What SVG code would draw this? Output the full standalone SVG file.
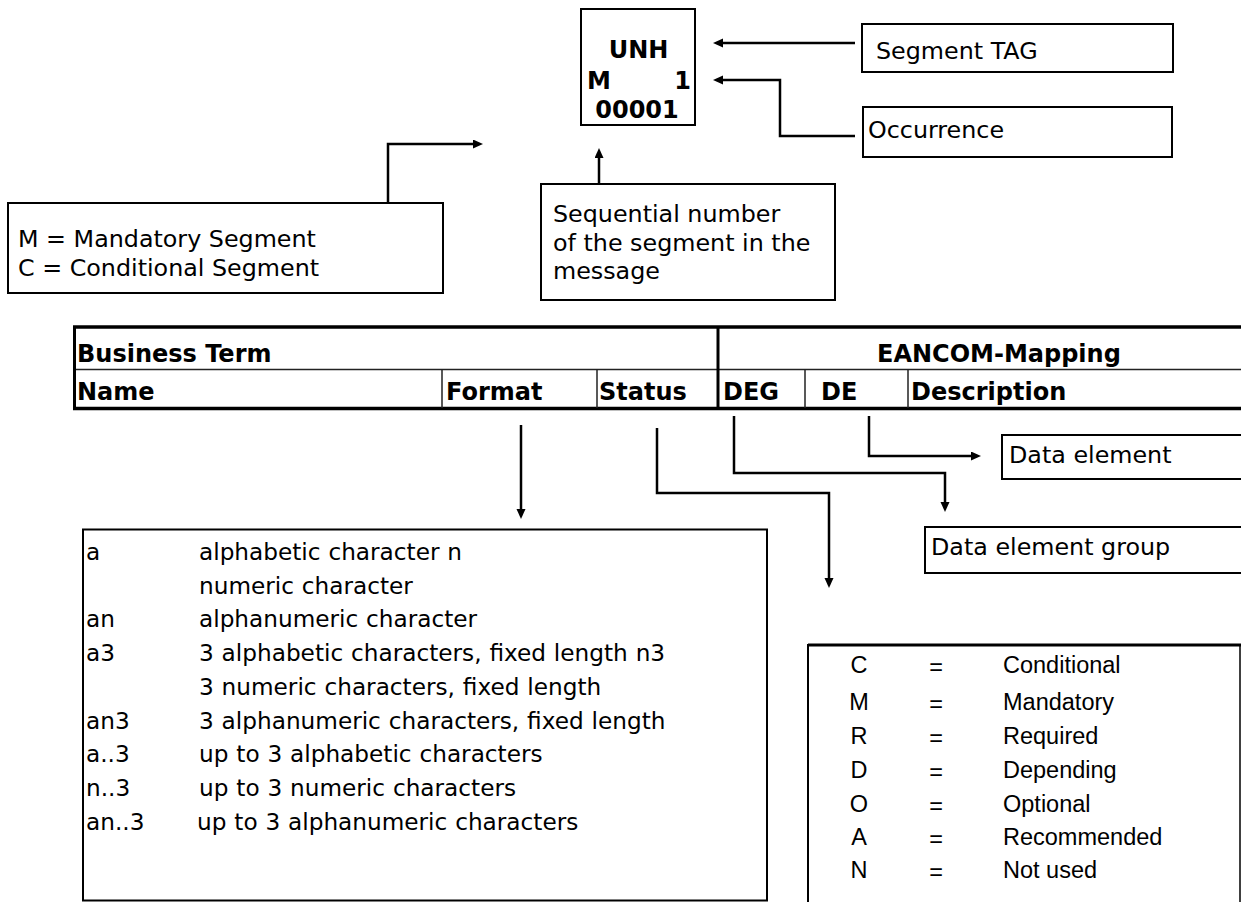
<svg xmlns="http://www.w3.org/2000/svg" width="1241" height="902" viewBox="0 0 1241 902">
<style>
text{font-family:"DejaVu Sans","Verdana",sans-serif;font-size:23.8px;fill:#000}
.b{font-weight:bold;font-size:24px}
.s{font-size:23.2px;word-spacing:0.5px}
.ar{font-family:"Liberation Sans",Arial,sans-serif;font-size:23.5px}
.box{fill:#fff;stroke:#000;stroke-width:2}
.con{fill:none;stroke:#000;stroke-width:2.5;marker-end:url(#ah)}
.tk{stroke:#000;stroke-width:3.5}
.tn{stroke:#222;stroke-width:1.5}
</style>
<defs>
<marker id="ah" markerUnits="userSpaceOnUse" markerWidth="12" markerHeight="10" refX="2" refY="4.5" orient="auto">
<path d="M0,0 L10,4.5 L0,9 z" fill="#000"/>
</marker>
</defs>
<rect width="1241" height="902" fill="#fff"/>

<g id="connectors">
<path class="con" d="M388,203 V144 H475"/>
<path class="con" d="M599,184 V156"/>
<path class="con" d="M855,43 H721"/>
<path class="con" d="M855,136 H780 V80 H721"/>
<path class="con" d="M521,425 V511"/>
<path class="con" d="M657,428 V493 H829 V580"/>
<path class="con" d="M734,416 V473 H945 V504"/>
<path class="con" d="M869,416 V456 H973"/>
</g>

<g id="unh">
<rect class="box" x="581" y="9" width="114" height="116"/>
<text class="b" x="638.5" y="58" text-anchor="middle">UNH</text>
<text class="b" x="587" y="89">M</text>
<text class="b" x="691" y="89" text-anchor="end">1</text>
<text class="b" x="637" y="118" text-anchor="middle">00001</text>
</g>

<g id="segment-tag">
<rect class="box" x="862" y="24" width="311" height="48"/>
<text x="876" y="59">Segment TAG</text>
</g>

<g id="occurrence">
<rect class="box" x="863" y="107" width="309" height="50"/>
<text x="868" y="138">Occurrence</text>
</g>

<g id="mandatory-conditional">
<rect class="box" x="8" y="203" width="435" height="90"/>
<text x="18" y="247">M = Mandatory Segment</text>
<text x="18" y="276">C = Conditional Segment</text>
</g>

<g id="sequential">
<rect class="box" x="541" y="184" width="294" height="116"/>
<text x="553" y="222">Sequential number</text>
<text x="553" y="250.5">of the segment in the</text>
<text x="553" y="279">message</text>
</g>

<g id="table">
<line class="tk" x1="73" y1="327" x2="1241" y2="327"/>
<line class="tn" x1="74" y1="369.5" x2="1241" y2="369.5"/>
<line class="tk" x1="73" y1="408.5" x2="1241" y2="408.5"/>
<line x1="74.5" y1="326" x2="74.5" y2="410" stroke="#000" stroke-width="3"/>
<line x1="718" y1="326" x2="718" y2="410" stroke="#000" stroke-width="3"/>
<line class="tn" x1="442" y1="369.5" x2="442" y2="408"/>
<line class="tn" x1="597" y1="369.5" x2="597" y2="408"/>
<line class="tn" x1="805" y1="369.5" x2="805" y2="408"/>
<line class="tn" x1="908" y1="369.5" x2="908" y2="408"/>
<text class="b" x="77" y="362">Business Term</text>
<text class="b" x="877" y="362">EANCOM-Mapping</text>
<text class="b" x="77" y="400">Name</text>
<text class="b" x="446" y="400">Format</text>
<text class="b" x="599" y="400">Status</text>
<text class="b" x="723" y="400">DEG</text>
<text class="b" x="821" y="400">DE</text>
<text class="b" x="911" y="400">Description</text>
</g>

<g id="data-element">
<path d="M1241,435 H1002 V479 H1241" fill="#fff" stroke="#000" stroke-width="2"/>
<text x="1009" y="463">Data element</text>
</g>

<g id="data-element-group">
<path d="M1241,527 H925 V573 H1241" fill="#fff" stroke="#000" stroke-width="2"/>
<text x="931" y="555">Data element group</text>
</g>

<g id="format-legend">
<rect class="box" x="83" y="529.5" width="684" height="371"/>
<text class="s" x="86" y="560">a</text><text class="s" x="199" y="560">alphabetic character n</text>
<text class="s" x="199" y="593.7">numeric character</text>
<text class="s" x="86" y="627.4">an</text><text class="s" x="199" y="627.4">alphanumeric character</text>
<text class="s" x="86" y="661.1">a3</text><text class="s" x="199" y="661.1">3 alphabetic characters, fixed length n3</text>
<text class="s" x="199" y="694.8">3 numeric characters, fixed length</text>
<text class="s" x="86" y="728.5">an3</text><text class="s" x="199" y="728.5">3 alphanumeric characters, fixed length</text>
<text class="s" x="86" y="762.2">a..3</text><text class="s" x="199" y="762.2">up to 3 alphabetic characters</text>
<text class="s" x="86" y="795.9">n..3</text><text class="s" x="199" y="795.9">up to 3 numeric characters</text>
<text class="s" x="86" y="829.6">an..3</text><text class="s" x="197" y="829.6">up to 3 alphanumeric characters</text>
</g>

<g id="status-legend">
<line x1="808" y1="645" x2="1241" y2="645" stroke="#000" stroke-width="3"/>
<line x1="808" y1="644" x2="808" y2="902" stroke="#000" stroke-width="2"/>
<line x1="1240" y1="644" x2="1240" y2="902" stroke="#000" stroke-width="1.5"/>
<text class="ar" x="859" y="673" text-anchor="middle">C</text><text class="ar" x="936" y="675" text-anchor="middle">=</text><text class="ar" x="1003" y="673">Conditional</text>
<text class="ar" x="859" y="710" text-anchor="middle">M</text><text class="ar" x="936" y="712" text-anchor="middle">=</text><text class="ar" x="1003" y="710">Mandatory</text>
<text class="ar" x="859" y="744" text-anchor="middle">R</text><text class="ar" x="936" y="746" text-anchor="middle">=</text><text class="ar" x="1003" y="744">Required</text>
<text class="ar" x="859" y="778" text-anchor="middle">D</text><text class="ar" x="936" y="780" text-anchor="middle">=</text><text class="ar" x="1003" y="778">Depending</text>
<text class="ar" x="859" y="812" text-anchor="middle">O</text><text class="ar" x="936" y="814" text-anchor="middle">=</text><text class="ar" x="1003" y="812">Optional</text>
<text class="ar" x="859" y="845" text-anchor="middle">A</text><text class="ar" x="936" y="847" text-anchor="middle">=</text><text class="ar" x="1003" y="845">Recommended</text>
<text class="ar" x="859" y="878" text-anchor="middle">N</text><text class="ar" x="936" y="880" text-anchor="middle">=</text><text class="ar" x="1003" y="878">Not used</text>
</g>
</svg>
